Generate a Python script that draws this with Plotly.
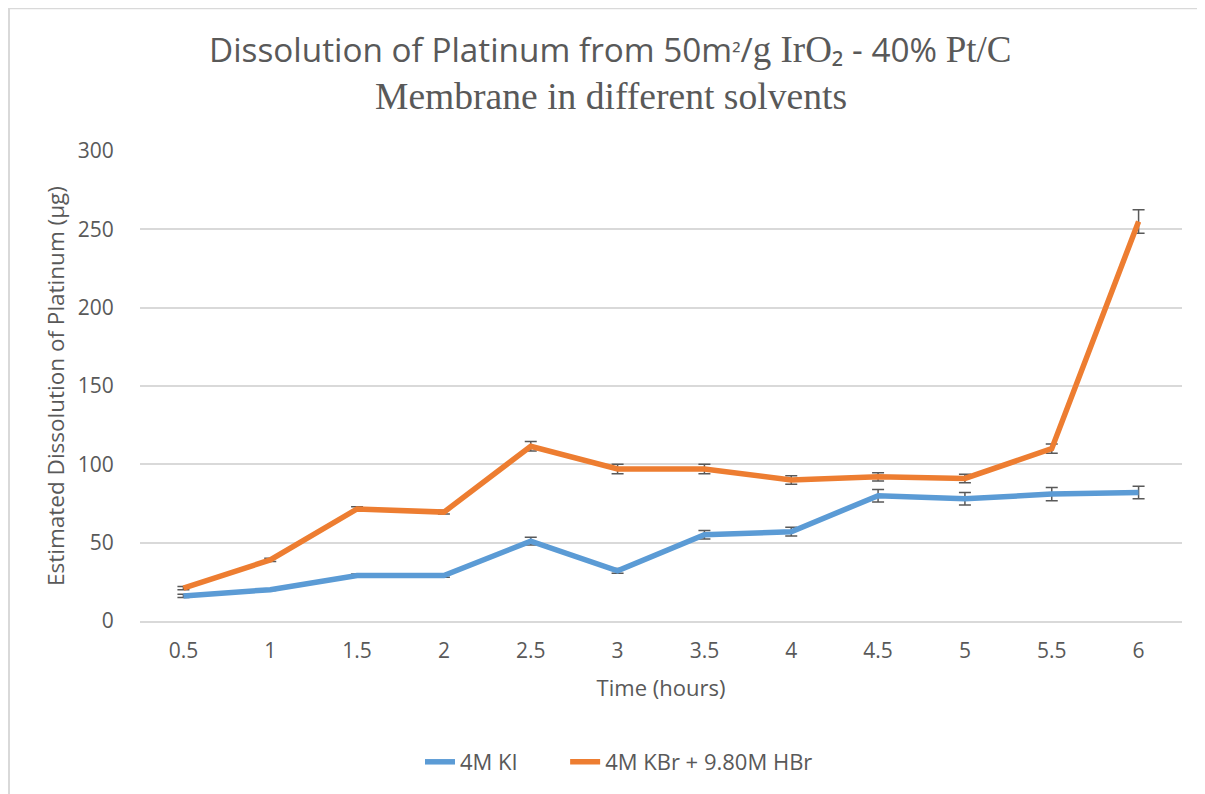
import plotly.graph_objects as go

time_labels = ["0.5", "1", "1.5", "2", "2.5", "3", "3.5", "4", "4.5", "5", "5.5", "6"]
ki_values = [16, 20, 29, 29, 51, 32, 55, 57, 80, 78, 81, 82]
ki_errors = [1, 0.5, 1, 1, 2.5, 1.5, 2.7, 2.8, 4, 4, 4.2, 4]
kbr_values = [21, 39, 71.5, 69.5, 111.5, 97, 97, 90, 92, 91, 110, 255]
kbr_errors = [1, 1, 1.5, 1.2, 3, 3, 3, 2.7, 2.6, 2.7, 3, 7.5]

SANS = "Open Sans"
SERIF = "Liberation Serif"
GREY = "#595959"

fig = go.Figure()
fig.add_trace(go.Scatter(
    x=time_labels, y=ki_values, mode="lines", name="4M KI", legend="legend",
    line=dict(color="#5B9BD5", width=5.5),
    error_y=dict(type="data", array=ki_errors, visible=True,
                 color=GREY, thickness=1.5, width=6),
))
fig.add_trace(go.Scatter(
    x=time_labels, y=kbr_values, mode="lines", name="4M KBr + 9.80M HBr", legend="legend2",
    line=dict(color="#ED7D31", width=5.5),
    error_y=dict(type="data", array=kbr_errors, visible=True,
                 color=GREY, thickness=1.5, width=6),
))

title1 = ("Dissolution of Platinum from 50m" +
          "<span style='font-size:24px'>²</span>/" +
          f"<span style='font-family:{SERIF};font-size:37px'>g IrO</span>" +
          "₂ - 40% " +
          f"<span style='font-family:{SERIF};font-size:37px'>Pt/C</span>")

legend_style = dict(orientation="h", xanchor="left", y=-0.3, yanchor="middle",
                    font=dict(size=22, color=GREY), bgcolor="rgba(0,0,0,0)")

fig.update_layout(
    width=1205, height=794,
    margin=dict(l=132, r=31, t=143, b=181),
    paper_bgcolor="white", plot_bgcolor="white",
    font=dict(family=SANS, color=GREY, size=21),
    showlegend=True,
    legend=dict(x=0.2687, **legend_style),
    legend2=dict(x=0.408, **legend_style),
    xaxis=dict(
        type="category", range=[-0.5, 11.5], autorange=False,
        showgrid=False, showline=True, linecolor="#d9d9d9", linewidth=1.5,
        ticks="outside", ticklen=10, tickcolor="rgba(0,0,0,0)",
        tickfont=dict(size=21, color=GREY),
        title=dict(text="Time (hours)", font=dict(size=22, color=GREY), standoff=18),
    ),
    yaxis=dict(
        range=[0, 300], dtick=50, showgrid=True, gridcolor="#d9d9d9", gridwidth=1.5,
        zeroline=False, showline=False,
        ticks="outside", ticklen=21, tickcolor="rgba(0,0,0,0)",
        tickfont=dict(size=21, color=GREY),
        title=dict(text="Estimated Dissolution of Platinum (µg)", font=dict(size=22.5, color=GREY), standoff=6),
    ),
    annotations=[
        dict(text=title1, xref="paper", yref="paper", x=0.452, y=1.216,
             xanchor="center", yanchor="middle", showarrow=False,
             font=dict(family=SANS, size=33.3, color=GREY)),
        dict(text="Membrane in different solvents", xref="paper", yref="paper", x=0.452, y=1.116,
             xanchor="center", yanchor="middle", showarrow=False,
             font=dict(family=SERIF, size=37.6, color=GREY)),
    ],
    shapes=[
        dict(type="rect", xref="paper", yref="paper", x0=-0.1257, x1=1.3, y0=-0.6, y1=1.3036,
             line=dict(color="#d9d9d9", width=2), fillcolor="rgba(0,0,0,0)", layer="below"),
    ],
)

fig.write_html("out.html")
